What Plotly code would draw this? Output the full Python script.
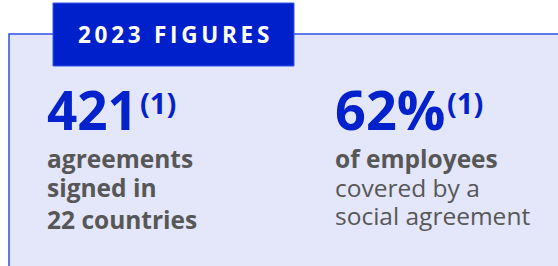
import plotly.graph_objects as go

# ---- data ----
header_text = "2023 FIGURES"
stat_values = ["421", "62%"]
stat_notes = ["(1)", "(1)"]
stat_lines = [
    ["agreements", "signed in", "22 countries"],
    ["of employees", "covered by a", "social agreement"],
]
stat_bold = [
    [True, True, True],
    [True, False, False],
]

# ---- style ----
FONT = "Open Sans"
BLUE = "#0322cc"
PANEL_FILL = "#e4e6fa"
PANEL_LINE = "#2f50e2"
GREY = "#575757"
W, H = 558, 266

ASC, DESC = 1.069, 0.293  # Open Sans metrics (em)


def mid_from_baseline(baseline, size):
    return baseline - (ASC - DESC) / 2 * size


fig = go.Figure()
fig.add_trace(go.Scatter(x=[0, W], y=[0, H], mode="markers",
                         marker=dict(opacity=0), hoverinfo="skip", showlegend=False))

fig.add_shape(type="rect", x0=9, x1=W + 20, y0=34, y1=H + 20,
              fillcolor=PANEL_FILL, line=dict(color=PANEL_LINE, width=1.5), layer="below")
fig.add_shape(type="rect", x0=53, x1=294, y0=3, y1=66,
              fillcolor="#0020cc", line=dict(color="#3555e8", width=1), layer="below")

ann = []
spaced = "\u2009".join(list(header_text))
ann.append(dict(x=173.5, y=mid_from_baseline(43, 22.5), text=spaced, showarrow=False,
                xanchor="center", yanchor="middle",
                font=dict(family=FONT, size=22.5, color="white", weight=700)))

col_x = [46, 334]
note_x = [139, 446]
value_base = [130, 130]
value_size = [53, 54]
line_bases = [[168, 197, 229], [168, 197, 225]]
for i, v in enumerate(stat_values):
    ann.append(dict(x=col_x[i], y=mid_from_baseline(value_base[i], value_size[i]), text=v,
                    showarrow=False, xanchor="left", yanchor="middle",
                    font=dict(family=FONT, size=value_size[i], color=BLUE, weight=700)))
    ann.append(dict(x=note_x[i], y=mid_from_baseline(114, 29), text=stat_notes[i],
                    showarrow=False, xanchor="left", yanchor="middle",
                    font=dict(family=FONT, size=29, color=BLUE, weight=700)))
    for j, line in enumerate(stat_lines[i]):
        ann.append(dict(x=col_x[i], y=mid_from_baseline(line_bases[i][j], 24.5), text=line,
                        showarrow=False, xanchor="left", yanchor="middle",
                        font=dict(family=FONT, size=24.5, color=GREY,
                                  weight=700 if stat_bold[i][j] else 400)))

fig.update_layout(
    width=W, height=H, margin=dict(l=0, r=0, t=0, b=0),
    paper_bgcolor="white", plot_bgcolor="white",
    xaxis=dict(range=[0, W], visible=False, fixedrange=True),
    yaxis=dict(range=[H, 0], visible=False, fixedrange=True),
    annotations=ann, showlegend=False,
)
for a in fig.layout.annotations:
    a.borderpad = 0

fig.write_html("out.html", config={"displayModeBar": False},
               post_script="document.body.style.margin='0';document.body.style.overflow='hidden';")
